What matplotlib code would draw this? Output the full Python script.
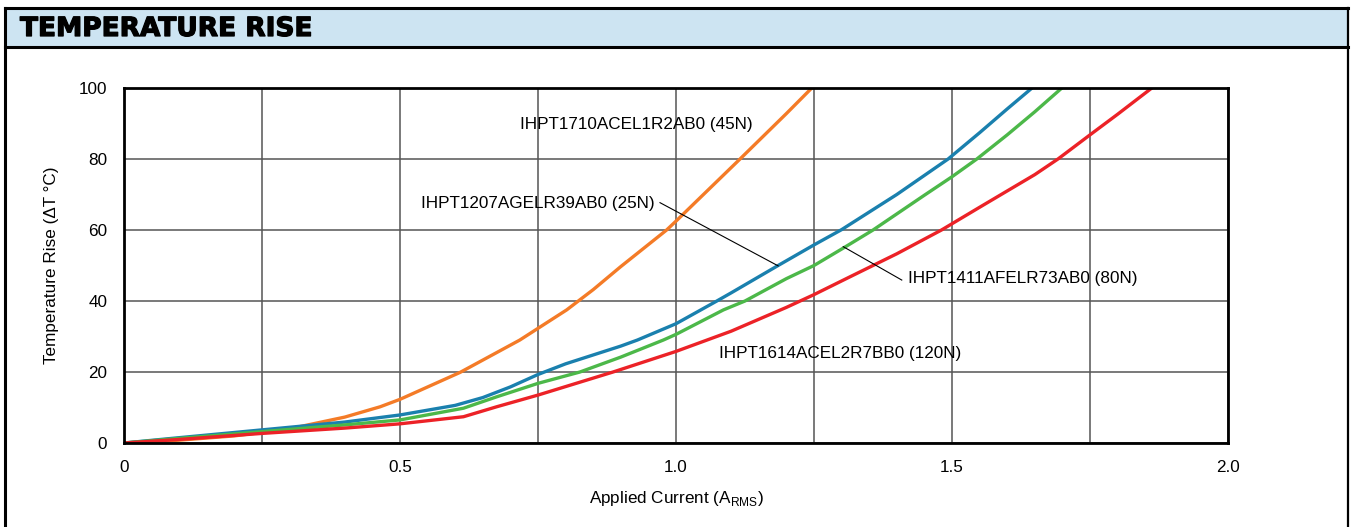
import matplotlib
matplotlib.use("Agg")
import matplotlib.pyplot as plt
from matplotlib.patches import Rectangle
from matplotlib.lines import Line2D
import matplotlib.patheffects as pe
import numpy as np

plt.rcParams['font.family'] = ['Liberation Sans', 'DejaVu Sans']

title = "TEMPERATURE RISE"
xlabel = "Applied Current (A$_{\\mathregular{RMS}}$)"
ylabel = "Temperature Rise (\u0394T \u00b0C)"

x_45N = [0, 0.1, 0.2, 0.3, 0.4, 0.464, 0.5, 0.609, 0.717, 0.802, 0.85, 0.9, 0.983, 1.0, 1.116, 1.2, 1.246]
y_45N = [0, 0.8, 2.0, 4.0, 7.3, 10.2, 12.3, 19.9, 29.0, 37.5, 43.2, 49.7, 60.0, 62.5, 80.0, 92.8, 100]

x_25N = [0, 0.1, 0.25, 0.4, 0.5, 0.6, 0.65, 0.7, 0.75, 0.8, 0.9, 0.93, 1.0, 1.074, 1.1, 1.185, 1.25, 1.3, 1.4, 1.493, 1.55, 1.6, 1.645]
y_25N = [0, 1.5, 3.7, 5.9, 7.9, 10.6, 12.8, 15.8, 19.3, 22.3, 27.3, 29.0, 33.6, 40.0, 42.3, 50.0, 55.8, 60.1, 70.0, 80.0, 87.4, 94.1, 100]

x_80N = [0, 0.1, 0.25, 0.4, 0.5, 0.615, 0.675, 0.75, 0.826, 0.9, 0.977, 1.0, 1.086, 1.125, 1.2, 1.25, 1.303, 1.357, 1.45, 1.5, 1.545, 1.6, 1.65, 1.699]
y_80N = [0, 1.3, 3.2, 5.1, 6.5, 9.8, 13.0, 16.8, 20.0, 24.2, 29.0, 30.6, 37.5, 40.0, 46.3, 50.0, 54.9, 60.0, 69.8, 75.0, 80.0, 86.8, 93.3, 100]

x_120N = [0, 0.1, 0.25, 0.4, 0.5, 0.615, 0.675, 0.75, 0.886, 1.0, 1.1, 1.2, 1.25, 1.315, 1.4, 1.481, 1.55, 1.6, 1.65, 1.692, 1.75, 1.8, 1.862]
y_120N = [0, 1.0, 2.7, 4.2, 5.4, 7.4, 10.2, 13.5, 20.0, 25.8, 31.5, 38.2, 41.8, 46.8, 53.3, 60.0, 66.4, 71.0, 75.6, 80.0, 86.8, 92.6, 100]

series = [
    (x_45N, y_45N, "#F47B27"),
    (x_25N, y_25N, "#1A80AE"),
    (x_80N, y_80N, "#4CB849"),
    (x_120N, y_120N, "#EC2227"),
]

W, H = 1351, 527
fig = plt.figure(figsize=(W / 100, H / 100), dpi=100)
fig.patch.set_facecolor("white")

# header band and frame
fig.patches.append(Rectangle((5 / W, 1 - 47 / H), 1343 / W, 39 / H, transform=fig.transFigure,
                             facecolor="#CDE4F2", edgecolor="none", zorder=0))
fig.lines.append(Line2D([5 / W, 1348 / W], [1 - 8 / H, 1 - 8 / H], transform=fig.transFigure, color="black", lw=2.2))
fig.lines.append(Line2D([5 / W, 1348 / W], [1 - 47 / H, 1 - 47 / H], transform=fig.transFigure, color="black", lw=2.2))
fig.lines.append(Line2D([5 / W, 5 / W], [0, 1 - 8 / H], transform=fig.transFigure, color="black", lw=2.2))
fig.lines.append(Line2D([1348 / W, 1348 / W], [0, 1 - 8 / H], transform=fig.transFigure, color="black", lw=1.6))
fig.text(20 / W, 1 - 29 / H, title, fontsize=19, fontweight="bold", va="center", ha="left",
         family=["DejaVu Sans"],
         path_effects=[pe.withStroke(linewidth=0.9, foreground="black")])

ax = fig.add_axes([124 / W, 1 - 443 / H, (1228 - 124) / W, (443 - 88) / H])
for xs, ys, c in series:
    ax.plot(xs, ys, color=c, lw=2.4, solid_capstyle="round", solid_joinstyle="round", zorder=3)

ax.set_xlim(0, 2.0)
ax.set_ylim(0, 100)
ax.set_xticks([0, 0.5, 1.0, 1.5, 2.0])
ax.set_xticklabels(["0", "0.5", "1.0", "1.5", "2.0"])
ax.set_xticks(np.arange(0, 2.01, 0.25), minor=True)
ax.set_yticks([0, 20, 40, 60, 80, 100])
ax.grid(True, which="both", color="#555555", lw=1.1, zorder=1)
ax.tick_params(which="both", length=0, labelsize=12.3, pad=12)
for s in ax.spines.values():
    s.set_color("black")
    s.set_linewidth(2)
    s.set_zorder(4)
ax.set_xlabel(xlabel, fontsize=12.3, labelpad=10)
ax.set_ylabel(ylabel, fontsize=12.3, labelpad=14)

fs = 12.3
ax.text(0.929, 89.6, "IHPT1710ACEL1R2AB0 (45N)", fontsize=fs, ha="center", va="center", zorder=5)
ax.text(0.962, 67.6, "IHPT1207AGELR39AB0 (25N)", fontsize=fs, ha="right", va="center", zorder=5)
ax.plot([0.971, 1.185], [67.7, 49.9], color="black", lw=0.8, zorder=5)
ax.text(1.42, 46.2, "IHPT1411AFELR73AB0 (80N)", fontsize=fs, ha="left", va="center", zorder=5)
ax.plot([1.303, 1.409], [55.3, 45.9], color="black", lw=0.8, zorder=5)
ax.text(1.077, 25.3, "IHPT1614ACEL2R7BB0 (120N)", fontsize=fs, ha="left", va="center", zorder=5)

fig.savefig("out.png", dpi=100)
